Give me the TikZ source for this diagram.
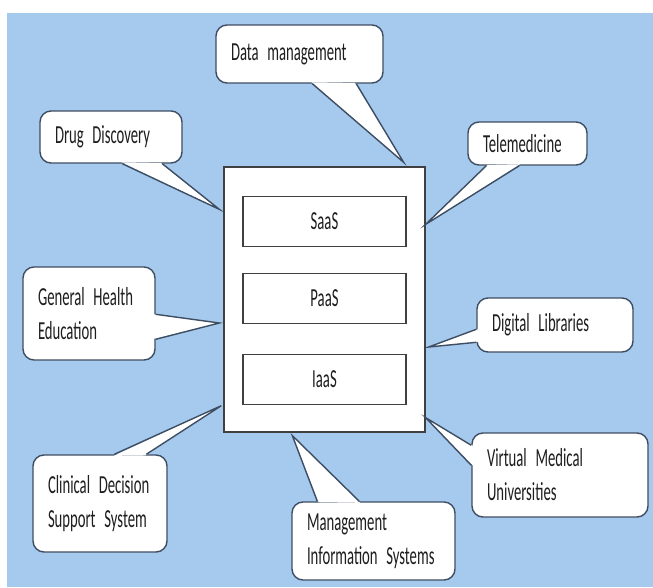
\documentclass[tikz,border=0pt]{standalone}
\usepackage{fontspec}
\newfontfamily\calib[FakeStretch=0.565]{Carlito}
\newcommand{\bubblefont}{\calib\fontsize{26}{34}\selectfont}
\usetikzlibrary{positioning,calc}
\definecolor{sky}{RGB}{166,201,238}
\definecolor{slate}{RGB}{62,78,98}
\definecolor{ink}{RGB}{30,30,30}

\begin{document}
\begin{tikzpicture}[
	x=1pt, y=-1pt,
	every node/.style={font=\bubblefont, text=ink},
	cloudbox/.style={
		draw=black!75,
		fill=white,
		line width=1.3pt,
		minimum width=201pt, minimum height=265pt
	},
	layer/.style={
		draw=black!75,
		line width=1.1pt,
		inner sep=0pt,
		minimum width=163pt, minimum height=50pt
	},
	bubble/.style={
		draw=slate, fill=white,
		line width=1.4pt,
		rounded corners=11pt,
		align=left,
		inner xsep=15pt, inner ysep=0pt
	},
	tail/.style={draw=slate, line width=1.4pt}
	]
	\useasboundingbox (0,0) rectangle (653,587);
	\fill[sky] (7,13) rectangle (653,587);

	\node[cloudbox] (cloud) at (324.5,299.5) {};
	\node[layer] (saas) at ($(cloud.north)+(0,55)$) {SaaS};
	\node[layer,below=26pt of saas] (paas) {PaaS};
	\node[layer,below=30pt of paas] (iaas) {IaaS};

	\node[bubble,text width=112pt,minimum height=52pt] (drug) at (111,137) {Drug Discovery};
	\node[bubble,text width=137pt,minimum height=58pt] (data) at (299.5,54) {Data management};
	\node[bubble,text width=89pt,minimum height=43pt] (tele) at (527.5,143.5) {Telemedicine};
	\node[bubble,text width=102pt,minimum height=93pt] (health) at (89,313.5) {General Health\\Education};
	\node[bubble,text width=126pt,minimum height=54pt] (libs) at (555,325) {Digital Libraries};
	\node[bubble,text width=104pt,minimum height=97pt] (clinic) at (100,503.5) {Clinical Decision\\Support System};
	\node[bubble,text width=133pt,minimum height=78pt] (mis) at (373.5,541) {Management\\Information Systems};
	\node[bubble,text width=146pt,minimum height=84pt] (virtual) at (560,475) {Virtual Medical\\Universities};

	\coordinate (drug-a) at ($(drug.south west)+(83,0)$);
	\coordinate (drug-b) at ($(drug.south west)+(123,0)$);
	\coordinate (drug-t) at ($(cloud.north west)+(-4,43)$);
	\coordinate (data-a) at ($(data.south west)+(97,0)$);
	\coordinate (data-b) at ($(data.south west)+(141,0)$);
	\coordinate (data-t) at ($(cloud.north east)+(-22,-4)$);
	\coordinate (tele-a) at ($(tele.south west)+(19,0)$);
	\coordinate (tele-b) at ($(tele.south west)+(52,0)$);
	\coordinate (tele-t) at ($(cloud.north east)+(0,58)$);
	\coordinate (health-a) at ($(health.north east)+(0,48)$);
	\coordinate (health-b) at ($(health.north east)+(0,73)$);
	\coordinate (health-t) at ($(cloud.west)+(-4,23.5)$);
	\coordinate (libs-a) at ($(libs.north west)+(0,32)$);
	\coordinate (libs-b) at ($(libs.north west)+(0,45)$);
	\coordinate (libs-t) at ($(cloud.east)+(3,47.5)$);
	\coordinate (clinic-a) at ($(clinic.north west)+(82,0)$);
	\coordinate (clinic-b) at ($(clinic.north west)+(114,0)$);
	\coordinate (clinic-t) at ($(cloud.south west)+(-2,-27)$);
	\coordinate (mis-a) at ($(mis.north west)+(26,0)$);
	\coordinate (mis-b) at ($(mis.north west)+(68,0)$);
	\coordinate (mis-t) at ($(cloud.south west)+(69,3)$);
	\coordinate (virtual-a) at ($(virtual.north west)+(0,13)$);
	\coordinate (virtual-b) at ($(virtual.north west)+(0,33)$);
	\coordinate (virtual-t) at ($(cloud.south east)+(0,-15)$);

	\foreach \n in {drug,data,tele,health,libs,clinic,mis,virtual}{
		\fill[white] ($(\n-a)!1.6pt!(\n.center)$) -- (\n-t) -- ($(\n-b)!1.6pt!(\n.center)$) -- cycle;
		\draw[tail] (\n-a) -- (\n-t) -- (\n-b);
	}
\end{tikzpicture}
\end{document}
